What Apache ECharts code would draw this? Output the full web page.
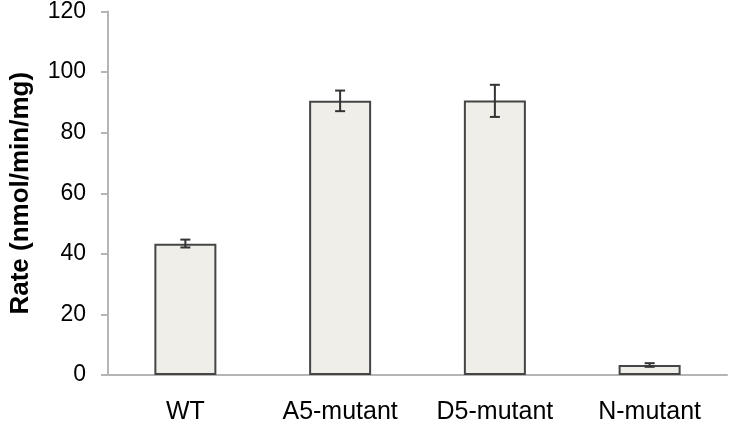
<!DOCTYPE html>
<html>
<head>
<meta charset="utf-8">
<script src="https://cdn.jsdelivr.net/npm/echarts@6/dist/echarts.min.js"></script>
<style>html,body{margin:0;padding:0;background:#fff;}#c{width:731px;height:428px;}</style>
</head>
<body>
<div id="c"></div>
<script>
var categories = ['WT', 'A5-mutant', 'D5-mutant', 'N-mutant'];
var rates = [43.3, 90.5, 90.6, 3.3];
var errLow = [42.1, 87.1, 85.2, 2.7];
var errHigh = [44.7, 93.9, 95.8, 3.9];
var yTicks = [0, 20, 40, 60, 80, 100, 120];

var errData = categories.map(function (c, i) { return [i, errLow[i], errHigh[i]]; });
var FONT = 'Liberation Sans, Arial, sans-serif';

var chart = echarts.init(document.getElementById('c'), null, {renderer: 'canvas'});
chart.setOption({
  animation: false,
  backgroundColor: '#ffffff',
  grid: {left: 104, right: 4, top: 10, bottom: 53},
  xAxis: {
    type: 'category',
    data: categories,
    axisLine: {lineStyle: {color: '#b5b5b5', width: 2}},
    axisTick: {show: false},
    axisLabel: {color: '#000', fontSize: 25, fontFamily: FONT, margin: 25}
  },
  yAxis: {
    type: 'value',
    min: yTicks[0],
    max: yTicks[yTicks.length - 1],
    interval: 20,
    name: 'Rate (nmol/min/mg)',
    nameLocation: 'middle',
    nameGap: 74,
    nameTextStyle: {color: '#000', fontSize: 26, fontWeight: 'bold', fontFamily: FONT},
    axisLine: {show: true, lineStyle: {color: '#b5b5b5', width: 2}},
    axisTick: {show: true, length: 7, lineStyle: {color: '#b5b5b5', width: 2}},
    splitLine: {show: false},
    axisLabel: {color: '#000', fontSize: 23, fontFamily: FONT, margin: 22}
  },
  series: [
    {
      type: 'bar',
      data: rates,
      barWidth: 62,
      itemStyle: {color: '#efeee8', borderColor: '#454545', borderWidth: 2}
    },
    {
      type: 'custom',
      data: errData,
      z: 10,
      renderItem: function (params, api) {
        var x = api.value(0);
        var lo = api.coord([x, api.value(1)]);
        var hi = api.coord([x, api.value(2)]);
        var hw = 5;
        var st = {stroke: '#333', lineWidth: 2};
        return {
          type: 'group',
          children: [
            {type: 'line', shape: {x1: lo[0], y1: lo[1], x2: hi[0], y2: hi[1]}, style: st},
            {type: 'line', shape: {x1: lo[0] - hw, y1: lo[1], x2: lo[0] + hw, y2: lo[1]}, style: st},
            {type: 'line', shape: {x1: hi[0] - hw, y1: hi[1], x2: hi[0] + hw, y2: hi[1]}, style: st}
          ]
        };
      }
    }
  ]
});
</script>
</body>
</html>
